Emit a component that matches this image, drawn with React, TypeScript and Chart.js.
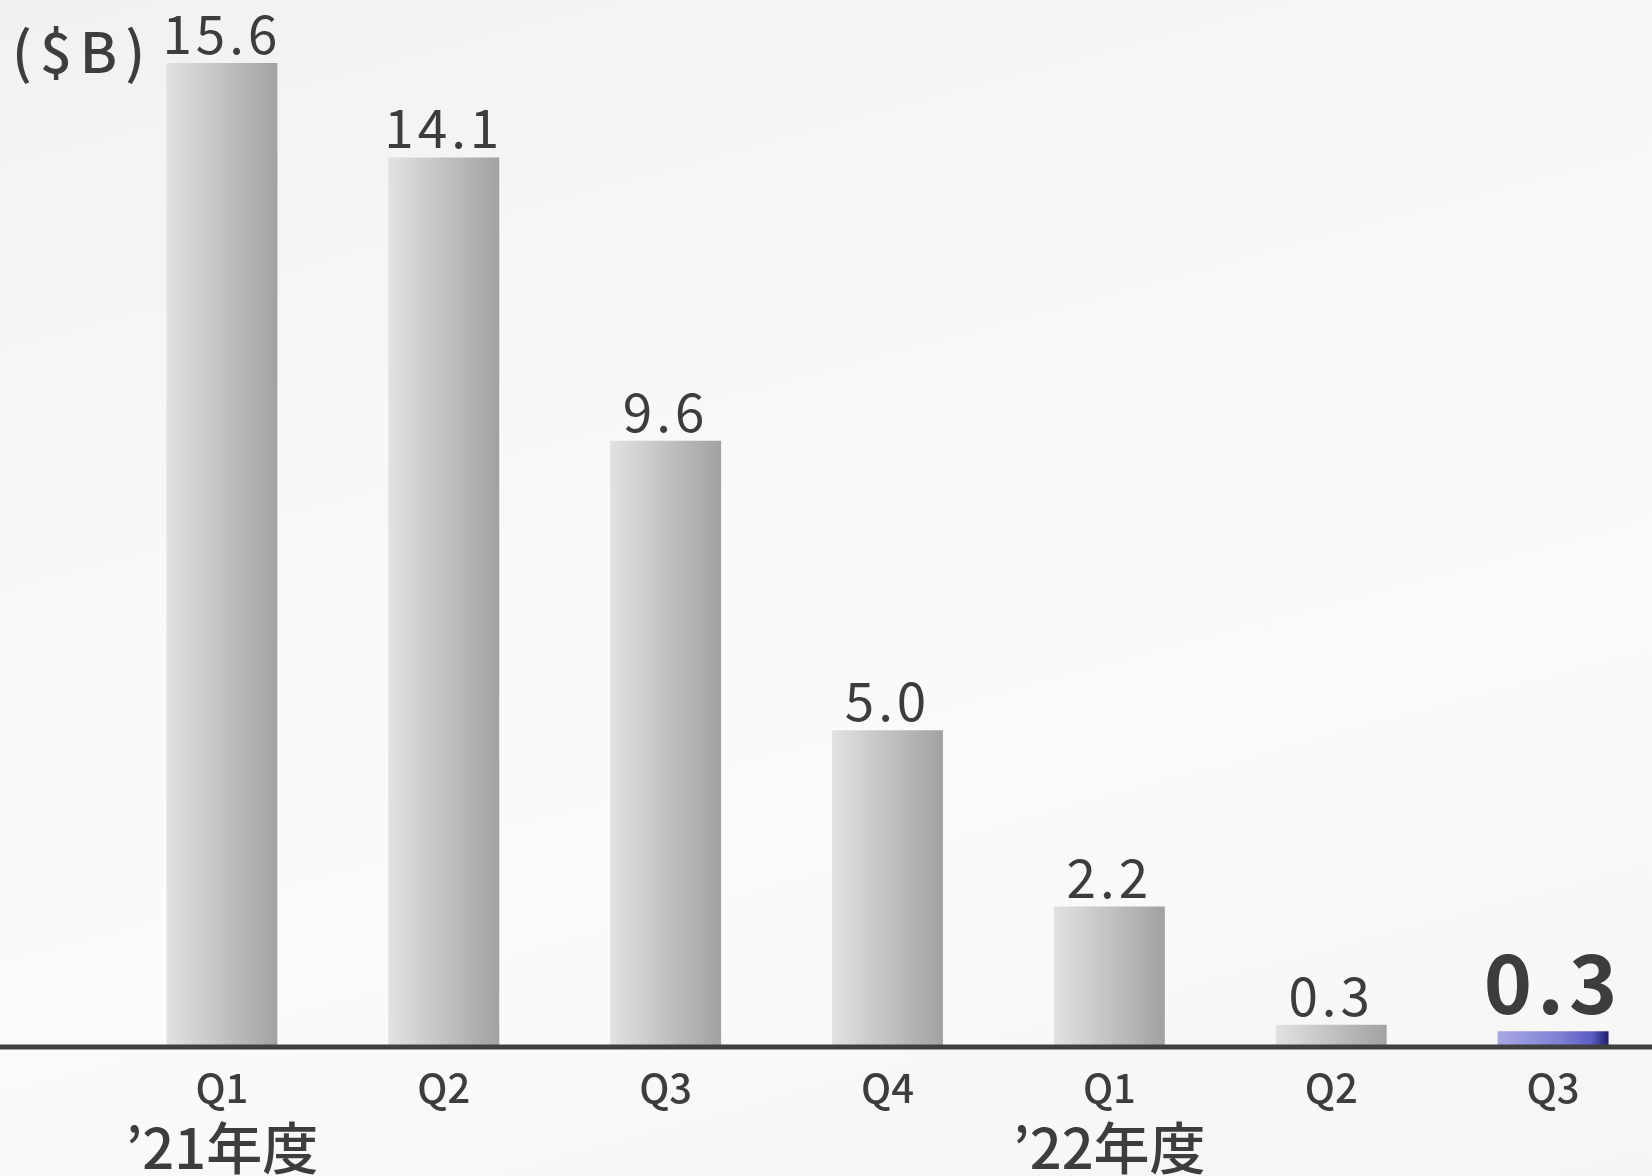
import { useEffect, useRef } from "react";
import {
  BarController,
  BarElement,
  CategoryScale,
  Chart,
  LinearScale,
  type Plugin,
  type ScriptableContext,
} from "chart.js";

Chart.register(BarController, BarElement, CategoryScale, LinearScale);

const quarters = ["Q1", "Q2", "Q3", "Q4", "Q1", "Q2", "Q3"];
const fiscalYears = ["’21年度", "", "", "", "’22年度", "", ""];
const amounts = [15.6, 14.1, 9.6, 5.0, 2.2, 0.32, 0.22];
const amountLabels = ["15.6", "14.1", "9.6", "5.0", "2.2", "0.3", "0.3"];
const highlightIndex = 6;
const unitLabel = "($B)";

const FONT = "'Noto Sans CJK JP', 'Noto Sans', sans-serif";
const TEXT = "#3d3d3d";
const WIDTH = 1664;
const HEIGHT = 1176;

const barFill = (ctx: ScriptableContext<"bar">) => {
  const chart = ctx.chart;
  const x = chart.scales.x;
  if (!x || !chart.chartArea) return "#c4c4c4";
  const center = x.getPixelForValue(ctx.dataIndex);
  const half = (x.width / quarters.length) * 0.25;
  const g = chart.ctx.createLinearGradient(center - half, 0, center + half, 0);
  if (ctx.dataIndex === highlightIndex) {
    g.addColorStop(0, "#a8a8e4");
    g.addColorStop(0.55, "#8080d4");
    g.addColorStop(0.85, "#5c5cc4");
    g.addColorStop(1, "#1e1e6c");
  } else {
    g.addColorStop(0, "#e2e2e2");
    g.addColorStop(1, "#a2a2a2");
  }
  return g;
};

// value labels above each bar
const valueLabels: Plugin<"bar"> = {
  id: "valueLabels",
  afterDatasetsDraw(chart) {
    const { ctx } = chart;
    const meta = chart.getDatasetMeta(0);
    ctx.save();
    ctx.fillStyle = TEXT;
    ctx.textAlign = "center";
    ctx.textBaseline = "alphabetic";
    meta.data.forEach((bar, i) => {
      const big = i === highlightIndex;
      ctx.font = big ? `700 82px ${FONT}` : `400 53px ${FONT}`;
      (ctx as any).letterSpacing = big ? "5px" : "4px";
      ctx.fillText(amountLabels[i], bar.x, bar.y - (big ? 17 : 9));
    });
    ctx.restore();
  },
};

// baseline across the whole width, plus the unit label
const frame: Plugin<"bar"> = {
  id: "frame",
  afterDatasetsDraw(chart) {
    const { ctx } = chart;
    const y0 = chart.scales.y.getPixelForValue(0) + 2;
    ctx.save();
    ctx.strokeStyle = "#404040";
    ctx.lineWidth = 5;
    ctx.beginPath();
    ctx.moveTo(0, y0);
    ctx.lineTo(chart.width, y0);
    ctx.stroke();
    ctx.fillStyle = TEXT;
    ctx.font = `500 56px ${FONT}`;
    (ctx as any).letterSpacing = "8px";
    ctx.textAlign = "left";
    ctx.textBaseline = "alphabetic";
    ctx.fillText(unitLabel, 12, 73);
    ctx.restore();
  },
};

export default function App() {
  const canvasRef = useRef<HTMLCanvasElement | null>(null);

  useEffect(() => {
    const canvas = canvasRef.current;
    if (!canvas) return;

    const chart = new Chart(canvas, {
      type: "bar",
      data: {
        labels: quarters,
        datasets: [
          {
            data: amounts,
            backgroundColor: barFill,
            borderWidth: 0,
            categoryPercentage: 1,
            barPercentage: 0.5,
          },
        ],
      },
      options: {
        responsive: false,
        animation: false,
        devicePixelRatio: 1,
        layout: { padding: { left: 111, right: 0, top: 0, bottom: 0 } },
        plugins: {
          legend: { display: false },
          tooltip: { enabled: false },
        },
        scales: {
          x: {
            type: "category",
            offset: true,
            grid: { display: false, drawTicks: false },
            border: { display: false },
            ticks: {
              color: TEXT,
              font: { family: FONT, size: 40, weight: 500 },
              padding: 19,
              autoSkip: false,
              maxRotation: 0,
            },
            afterFit: (scale) => {
              scale.height = 75;
            },
          },
          x2: {
            type: "category",
            position: "bottom",
            labels: fiscalYears,
            offset: true,
            grid: { display: false, drawTicks: false },
            border: { display: false },
            ticks: {
              color: TEXT,
              font: { family: FONT, size: 56, weight: 500, lineHeight: 1 },
              padding: 0,
              autoSkip: false,
              maxRotation: 0,
            },
            afterFit: (scale) => {
              scale.height = 56;
            },
          },
          y: { display: false, min: 0, max: 16.6 },
        },
      },
      plugins: [valueLabels, frame],
    });

    return () => chart.destroy();
  }, []);

  return (
    <div
      style={{
        position: "absolute",
        left: 0,
        top: 0,
        width: 1652,
        height: HEIGHT,
        overflow: "hidden",
        background: "linear-gradient(165deg, #f1f1f1 0%, #f9f9f9 40%, #fbfbfb 65%, #f5f5f5 100%)",
      }}
    >
      <canvas ref={canvasRef} width={WIDTH} height={HEIGHT} style={{ display: "block" }} />
    </div>
  );
}
